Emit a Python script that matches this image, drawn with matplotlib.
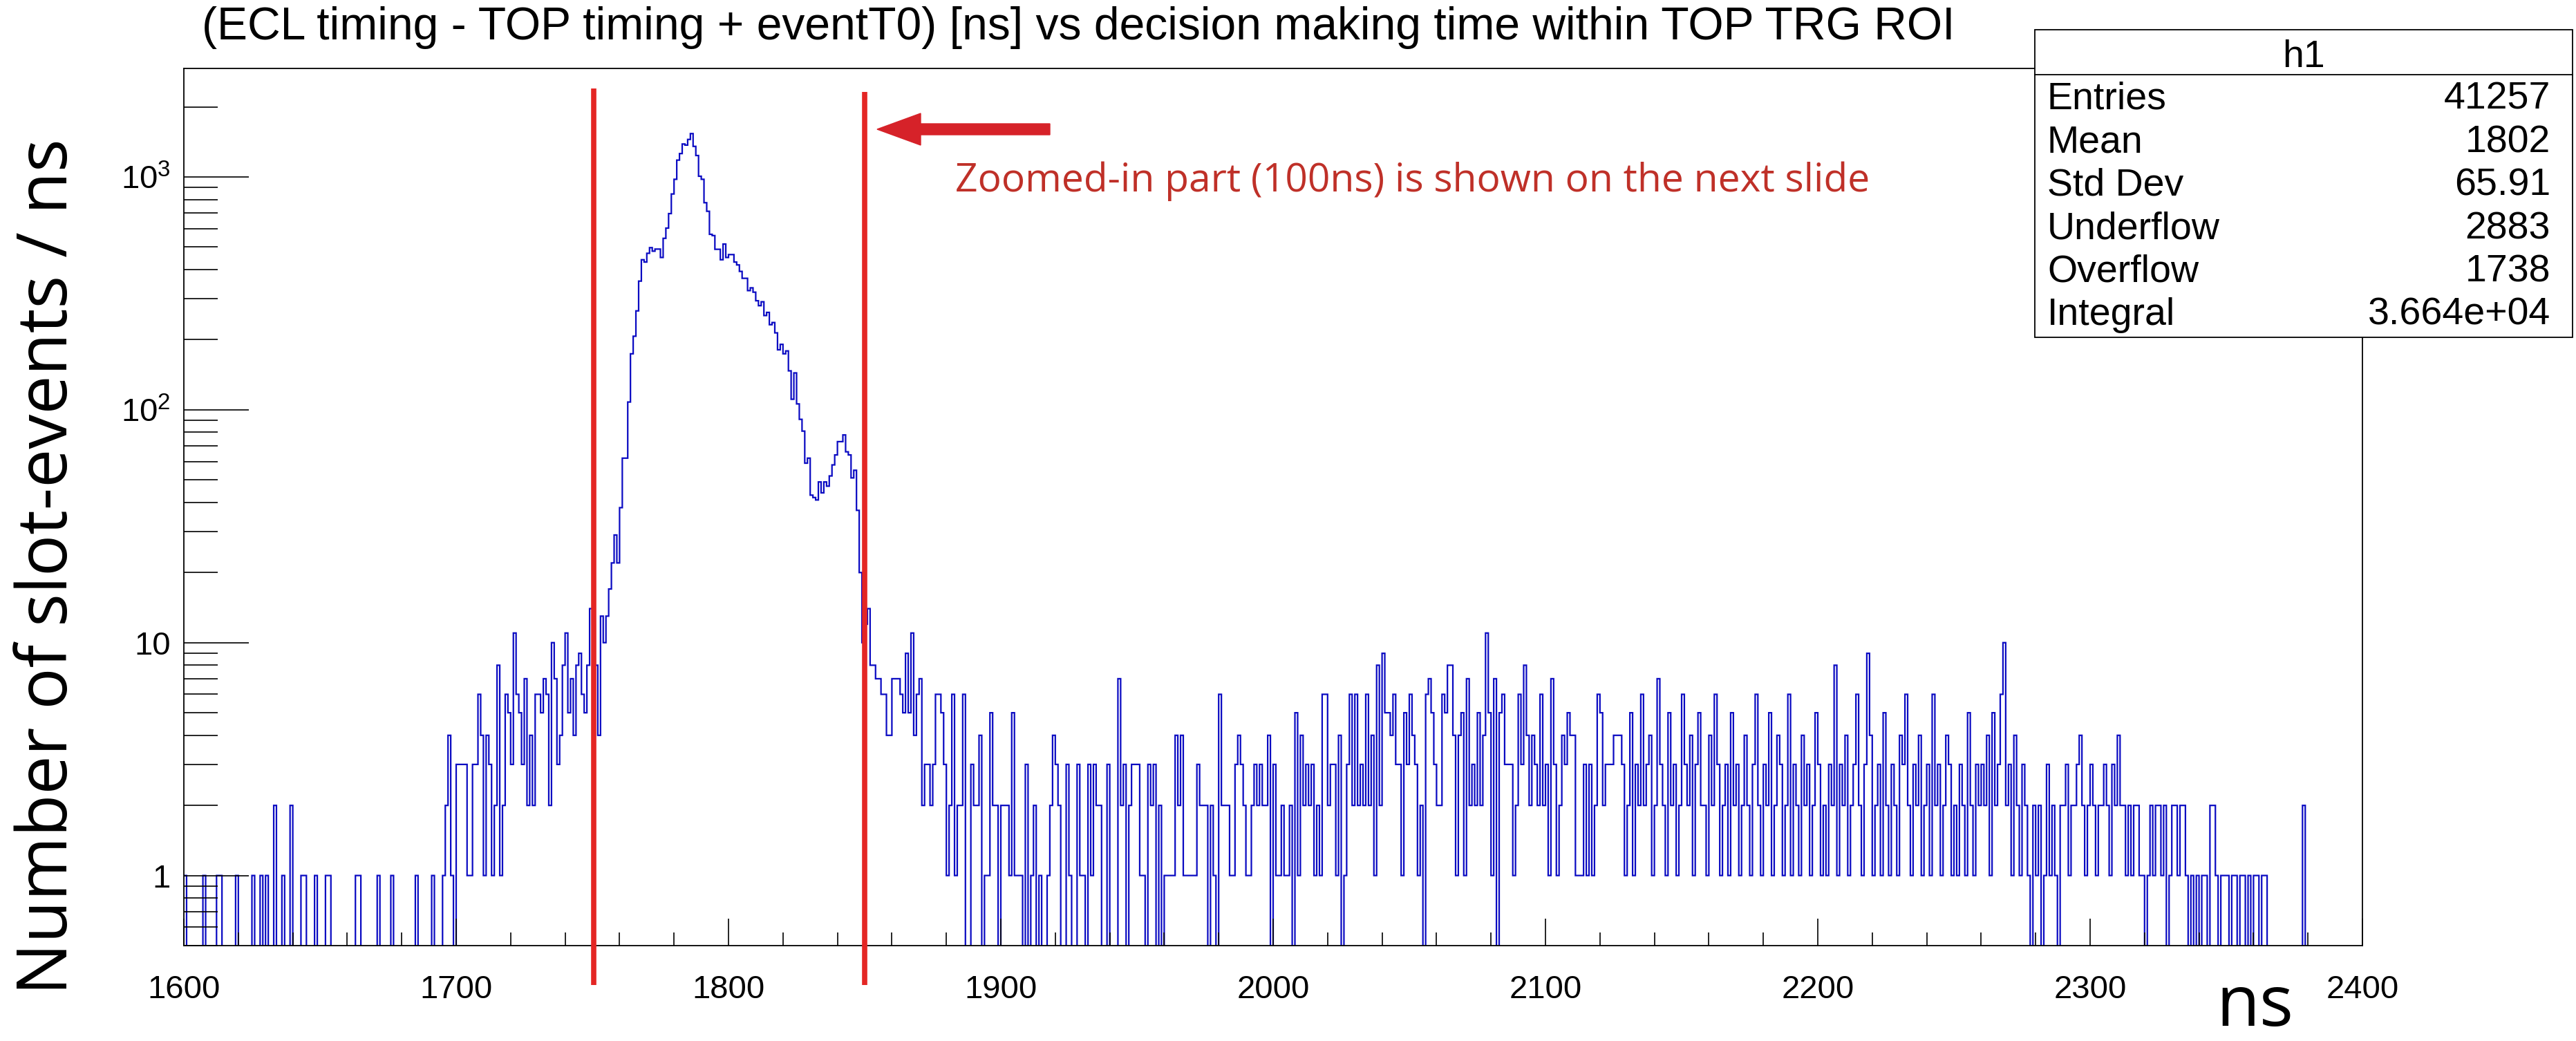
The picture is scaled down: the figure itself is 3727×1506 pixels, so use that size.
import numpy as np
import matplotlib
matplotlib.use("Agg")
import matplotlib.pyplot as plt
from matplotlib import font_manager
from matplotlib.patches import FancyArrow, Rectangle
from matplotlib.lines import Line2D
from matplotlib.transforms import Affine2D, blended_transform_factory
from matplotlib.ticker import (MultipleLocator, FixedLocator, FixedFormatter,
                               LogLocator, NullFormatter)

# histogram contents, 1 ns bins
counts_1600_1699 = [
    1, 0, 0, 0, 0, 0, 0, 1, 0, 0,
    0, 0, 1, 1, 0, 0, 0, 0, 0, 1,
    0, 0, 0, 0, 0, 1, 0, 0, 1, 0,
    1, 0, 0, 2, 0, 0, 1, 0, 0, 2,
    0, 0, 0, 1, 1, 0, 0, 0, 1, 0,
    0, 0, 1, 1, 0, 0, 0, 0, 0, 0,
    0, 0, 0, 1, 1, 0, 0, 0, 0, 0,
    0, 1, 0, 0, 0, 0, 1, 0, 0, 0,
    0, 0, 0, 0, 0, 1, 0, 0, 0, 0,
    0, 1, 0, 0, 0, 1, 2, 4, 1, 0]

counts_1700_1747 = [
    3, 3, 3, 3, 1, 1, 3, 3, 6, 4,
    1, 4, 3, 1, 2, 8, 1, 2, 6, 5,
    3, 11, 6, 5, 3, 7, 2, 4, 2, 6,
    6, 5, 7, 6, 2, 10, 7, 3, 4, 8,
    11, 5, 7, 4, 8, 9, 6, 5]

counts_1748_1863 = [
    8, 14, 12, 8, 4, 13, 10, 13, 17, 22,
    29, 22, 38, 62, 62, 108, 174, 207, 266, 357,
    441, 431, 470, 497, 480, 490, 490, 451, 545, 603,
    696, 845, 977, 1181, 1260, 1385, 1370, 1449, 1535, 1353,
    1236, 1007, 977, 775, 712, 567, 560, 489, 489, 441,
    515, 451, 464, 464, 431, 419, 393, 367, 367, 325,
    334, 320, 294, 280, 291, 254, 262, 232, 237, 214,
    181, 191, 174, 179, 147, 111, 144, 106, 91, 81,
    59, 62, 43, 42, 41, 49, 44, 49, 47, 52,
    58, 64, 73, 73, 78, 66, 64, 51, 55, 37,
    20, 10, 12, 14, 8, 8, 7, 7, 6, 6,
    4, 4, 7, 7, 7, 6]

counts_1864_1995 = [
    5, 9, 5, 11, 4, 6, 7, 2, 3, 3,
    2, 3, 6, 6, 5, 3, 1, 2, 6, 1,
    2, 2, 6, 0, 0, 3, 2, 2, 4, 0,
    1, 1, 5, 2, 2, 0, 2, 2, 2, 1,
    5, 1, 1, 1, 0, 3, 0, 1, 2, 0,
    1, 0, 0, 1, 2, 4, 3, 2, 0, 0,
    3, 1, 0, 0, 3, 1, 1, 0, 3, 1,
    3, 2, 2, 0, 0, 3, 0, 0, 0, 7,
    2, 3, 0, 2, 3, 3, 3, 1, 1, 0,
    3, 2, 3, 0, 2, 0, 1, 1, 1, 1,
    4, 2, 4, 1, 1, 1, 1, 1, 3, 2,
    2, 2, 0, 2, 1, 0, 6, 2, 2, 2,
    1, 1, 3, 4, 3, 2, 1, 1, 2, 3,
    2, 3]

counts_1996_2127 = [
    2, 2, 4, 0, 3, 1, 1, 2, 1, 1,
    2, 0, 5, 1, 4, 2, 3, 2, 3, 1,
    2, 1, 6, 6, 2, 3, 3, 1, 4, 0,
    1, 3, 6, 2, 6, 2, 3, 2, 6, 2,
    4, 1, 8, 2, 9, 5, 5, 4, 6, 3,
    3, 1, 5, 3, 6, 4, 3, 1, 2, 0,
    6, 7, 5, 3, 2, 2, 6, 5, 8, 8,
    4, 1, 4, 5, 1, 7, 2, 3, 2, 5,
    2, 4, 11, 5, 1, 7, 0, 5, 6, 3,
    3, 3, 1, 2, 6, 3, 8, 4, 2, 4,
    3, 2, 6, 2, 3, 1, 7, 3, 1, 2,
    4, 3, 5, 4, 4, 1, 1, 1, 3, 1,
    3, 1, 2, 6, 5, 2, 3, 3, 3, 4,
    4, 4]

counts_2128_2259 = [
    3, 1, 2, 5, 1, 3, 2, 6, 2, 3,
    4, 1, 2, 7, 3, 2, 1, 5, 2, 3,
    1, 2, 6, 3, 2, 4, 1, 3, 5, 2,
    2, 1, 4, 2, 6, 3, 1, 2, 3, 1,
    5, 2, 3, 1, 2, 4, 2, 1, 3, 6,
    2, 1, 3, 2, 5, 1, 2, 4, 3, 1,
    2, 6, 1, 3, 2, 1, 4, 2, 3, 1,
    2, 5, 3, 1, 2, 1, 3, 2, 8, 1,
    3, 2, 4, 1, 2, 3, 6, 2, 1, 3,
    9, 4, 1, 2, 3, 1, 5, 2, 1, 3,
    2, 1, 4, 3, 6, 2, 1, 3, 2, 4,
    1, 2, 3, 1, 6, 2, 3, 1, 2, 4,
    3, 1, 2, 1, 3, 2, 1, 5, 2, 1,
    3, 2]

counts_2260_2399 = [
    3, 2, 4, 1, 5, 2, 3, 6, 10, 2,
    3, 1, 4, 2, 1, 3, 2, 1, 0, 2,
    1, 2, 0, 1, 3, 1, 2, 1, 0, 2,
    2, 3, 1, 2, 2, 3, 4, 2, 1, 2,
    3, 2, 1, 2, 2, 3, 2, 1, 3, 2,
    4, 2, 2, 1, 2, 1, 2, 2, 1, 1,
    0, 1, 2, 1, 2, 2, 1, 2, 0, 1,
    2, 2, 1, 2, 2, 1, 0, 1, 0, 1,
    0, 1, 1, 0, 2, 2, 1, 0, 1, 1,
    1, 0, 1, 1, 0, 1, 1, 0, 1, 0,
    1, 1, 0, 1, 1, 0, 0, 0, 0, 0,
    0, 0, 0, 0, 0, 0, 0, 0, 2, 0,
    0, 0, 0, 0, 0, 0, 0, 0, 0, 0,
    0, 0, 0, 0, 0, 0, 0, 0, 0, 0]

bin_lo, bin_hi = 1600, 2400
zoom_lines = [1750.4, 1850.0]

title = "(ECL timing - TOP timing + eventT0) [ns] vs decision making time within TOP TRG ROI"
ylabel = "Number of slot-events / ns"
xlabel = "ns"
note = "Zoomed-in part (100ns) is shown on the next slide"
stat_title = "h1"
stat_names = ["Entries", "Mean", "Std Dev", "Underflow", "Overflow", "Integral"]
stat_values = ["41257", "1802", "65.91", "2883", "1738", "3.664e+04"]
ytick_vals = [1, 10, 100, 1000]
ytick_text = ["1", "10", "$10^{2}$", "$10^{3}$"]

W, H = 3727, 1506
plt.rcParams["font.family"] = ["Liberation Sans", "DejaVu Sans"]
plt.rcParams["mathtext.fontset"] = "custom"
plt.rcParams["mathtext.rm"] = "Liberation Sans"
plt.rcParams["mathtext.default"] = "regular"

available = {f.name for f in font_manager.fontManager.ttflist}
if "Liberation Sans Narrow" in available:
    label_font, label_size = "Liberation Sans Narrow", 94
else:
    label_font, label_size = "Open Sans", 72

fig = plt.figure(figsize=(W / 100, H / 100), dpi=100)
# pixel coordinates of the picture, origin top left
px = Affine2D().scale(1 / W, -1 / H).translate(0, 1) + fig.transFigure

ax = fig.add_axes([266 / W, 1 - 1368 / H, 3152 / W, 1269 / H])
counts = np.concatenate([counts_1600_1699, counts_1700_1747, counts_1748_1863,
                         counts_1864_1995, counts_1996_2127, counts_2128_2259,
                         counts_2260_2399])
edges = np.arange(bin_lo, bin_hi + 1)
ax.stairs(counts, edges, color="#0a0ac2", lw=1.6, baseline=None)

ax.set_yscale("log")
ax.set_xlim(bin_lo, bin_hi)
ax.set_ylim(0.5, 2924)

ax.xaxis.set_major_locator(MultipleLocator(100))
ax.xaxis.set_minor_locator(MultipleLocator(20))
ax.yaxis.set_major_locator(FixedLocator(ytick_vals))
ax.yaxis.set_major_formatter(FixedFormatter(ytick_text))
ax.yaxis.set_minor_locator(LogLocator(base=10, subs=np.arange(2, 10), numticks=20))
ax.yaxis.set_minor_formatter(NullFormatter())
ax.tick_params(axis="both", which="both", direction="in", top=False, right=False,
               width=1.2, colors="black")
ax.tick_params(axis="x", which="major", length=28, labelsize=34, pad=30)
ax.tick_params(axis="x", which="minor", length=14)
ax.tick_params(axis="y", which="major", length=68, labelsize=34, pad=14)
ax.tick_params(axis="y", which="minor", length=35)
for s in ax.spines.values():
    s.set_linewidth(1.3)

fig.text(1560, 57, title, transform=px, ha="center", va="baseline", fontsize=47.5)

# red marker lines and arrow put on top of the plot
vl = blended_transform_factory(ax.transData, px)
for x, top in zip(zoom_lines, [128, 133]):
    fig.add_artist(Line2D([x, x], [top, 1425], transform=vl, color="#e42624",
                          lw=5.5, solid_capstyle="butt"))
fig.add_artist(FancyArrow(1519, 187, -250, 0, width=16, head_width=46,
                          head_length=63, length_includes_head=True,
                          color="#d62229", transform=px))
fig.text(1382, 277, note, transform=px, ha="left", va="baseline", fontsize=41,
         family="Open Sans", color="#bf3028")

# stats box
fig.add_artist(Rectangle((2944, 43), 778, 445, transform=px, facecolor="white",
                         edgecolor="black", lw=1.3, zorder=5))
fig.add_artist(Line2D([2944, 3722], [108, 108], transform=px, color="black",
                      lw=1.3, zorder=6))
fig.text(3333, 97, stat_title, transform=px, ha="center", va="baseline",
         fontsize=40, zorder=7)
for i, (name, val) in enumerate(zip(stat_names, stat_values)):
    y = 158 + 62.4 * i
    fig.text(2962, y, name, transform=px, ha="left", va="baseline", fontsize=40, zorder=7)
    fig.text(3690, y, val, transform=px, ha="right", va="baseline", fontsize=40, zorder=7)

fig.text(97, 820, ylabel, transform=px, rotation=90, rotation_mode="anchor",
         ha="center", va="baseline", fontsize=label_size, family=label_font)
fig.text(3262, 1484, xlabel, transform=px, ha="center", va="baseline",
         fontsize=74, family="Open Sans")

fig.savefig("out.png", dpi=100)
